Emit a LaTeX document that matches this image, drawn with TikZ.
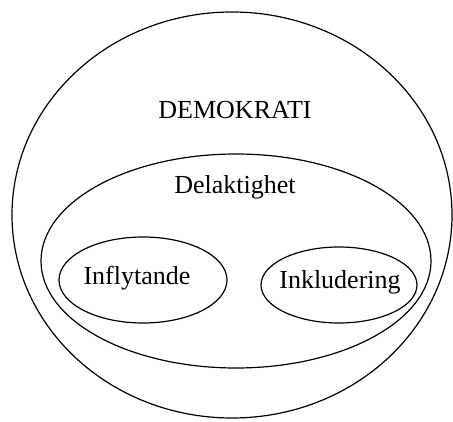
\documentclass[tikz,border=0pt]{standalone}
\usepackage{fontspec}
\setmainfont{Liberation Serif}
\usetikzlibrary{shapes.geometric}

\begin{document}
\begin{tikzpicture}[x=1pt,y=1pt,line width=1.2pt,
		set label/.style={font=\fontsize{26}{30}\selectfont},
		sub set/.style={ellipse,draw,inner sep=0pt}]
		\useasboundingbox (0,0) rectangle (453,421);
		
		\draw (232,206) ellipse [x radius=220, y radius=203];
		\draw (236,160) ellipse [x radius=195, y radius=107];
		
		\node[set label] (demokrati) at (235,311) {DEMOKRATI};
		\node[set label] (delaktighet) at (235,234) {Delaktighet};
		
		\node[sub set, minimum width=168, minimum height=86] (inflytande) at (143,141) {};
		\node[sub set, minimum width=156, minimum height=76] (inkludering) at (339,136) {};
		\node[set label] (inflytande text) at (137,143) {Inflytande};
		\node[set label] (inkludering text) at (340,139) {Inkludering};
		\end{tikzpicture}
\end{document}
